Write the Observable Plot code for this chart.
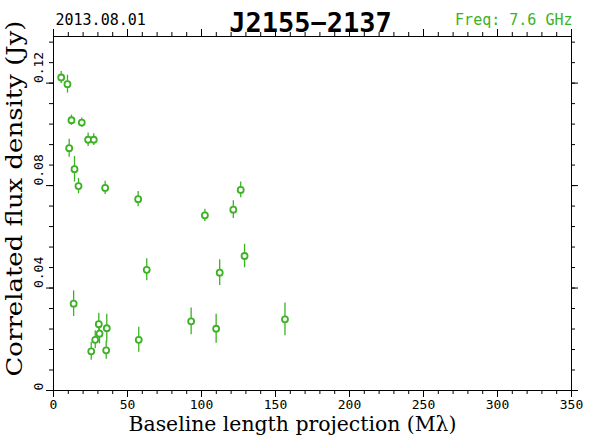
<!DOCTYPE html>
<html>
<head>
<meta charset="utf-8">
<script src="https://cdn.jsdelivr.net/npm/d3@7"></script>
<script src="https://cdn.jsdelivr.net/npm/@observablehq/plot@0.6"></script>
<style>
  html, body { margin: 0; padding: 0; background: white; }
</style>
</head>
<body>
<div id="chart"></div>
<script>
const baseline = [5.2, 9.45, 12.15, 19.1, 23.4, 27.2, 10.6, 14.2, 16.9, 34.9, 57.2, 102.3, 121.5, 126.5, 129.1, 112.3, 63.0, 13.6, 30.6, 36.0, 31.1, 28.2, 25.5, 35.6, 57.6, 93.0, 109.9, 156.4];
const flux = [0.1222, 0.1196, 0.1055, 0.1046, 0.0979, 0.0979, 0.0946, 0.0864, 0.0798, 0.0791, 0.0747, 0.0684, 0.0706, 0.0783, 0.0525, 0.0460, 0.0471, 0.0339, 0.0259, 0.0243, 0.0222, 0.0198, 0.0153, 0.0157, 0.0198, 0.0270, 0.0241, 0.0278];
const fluxErr = [0.0023, 0.0035, 0.0020, 0.0018, 0.0026, 0.0023, 0.0035, 0.0050, 0.0030, 0.0026, 0.0030, 0.0024, 0.0035, 0.0031, 0.0046, 0.0050, 0.0043, 0.0050, 0.0043, 0.0055, 0.0040, 0.0035, 0.0035, 0.0035, 0.0049, 0.0052, 0.0057, 0.0064];

const xTicks = [0, 50, 100, 150, 200, 250, 300, 350];
const xTickLabels = ["0", "50", "100", "150", "200", "250", "300", "350"];
const yTicks = [0, 0.04, 0.08, 0.12];
const yTickLabels = ["0", "0.04", "0.08", "0.12"];
const xMinor = d3.range(0, 351, 10);
const yMinor = d3.range(0, 0.138, 0.008);

const titleText = "J2155\u22122137";
const dateText = "2013.08.01";
const freqText = "Freq: 7.6 GHz";
const xLabel = "Baseline length projection (M\u03bb)";
const yLabel = "Correlated flux density (Jy)";

const green = "#3cb224";
const data = baseline.map((u, i) => ({u, f: flux[i], e: fluxErr[i]}));

const W = 590, H = 443, ML = 53, MR = 19, MT = 36, MB = 53;
const FW = W - ML - MR, FH = H - MT - MB;

const plot = Plot.plot({
  width: W,
  height: H,
  marginLeft: ML,
  marginRight: MR,
  marginTop: MT,
  marginBottom: MB,
  style: {fontFamily: "DejaVu Sans Mono", fontSize: "13px", background: "white", color: "black"},
  x: {domain: [0, 350], axis: null},
  y: {domain: [0, 0.1382], axis: null},
  marks: [
    Plot.frame({stroke: "black", strokeWidth: 1}),
    // bottom axis: major ticks with labels
    Plot.axisX({anchor: "bottom", ticks: xTicks, tickSize: 7, tickPadding: 2, tickFormat: d => xTickLabels[xTicks.indexOf(d)], label: null, fontSize: 13}),
    // minor ticks (outward) on all four sides
    Plot.tickX(xMinor, {x: d => d, insetTop: FH, insetBottom: -4, stroke: "black"}),
    Plot.tickX(xMinor, {x: d => d, insetTop: -4, insetBottom: FH, stroke: "black"}),
    Plot.tickX(xTicks, {x: d => d, insetTop: -7, insetBottom: FH, stroke: "black"}),
    Plot.tickY(yMinor, {y: d => d, insetLeft: -4, insetRight: FW, stroke: "black"}),
    Plot.tickY(yTicks, {y: d => d, insetLeft: -7, insetRight: FW, stroke: "black"}),
    Plot.tickY(yMinor, {y: d => d, insetLeft: FW, insetRight: -4, stroke: "black"}),
    Plot.tickY(yTicks, {y: d => d, insetLeft: FW, insetRight: -7, stroke: "black"}),
    // rotated y tick labels
    Plot.text(yTicks, {y: d => d, text: (d, i) => yTickLabels[i], frameAnchor: "left", dx: -15, rotate: -90, fontSize: 13, fill: "black"}),
    // error bars
    Plot.ruleX(data, {x: "u", y1: d => d.f - d.e, y2: d => d.f + d.e, stroke: green, strokeWidth: 1.3}),
    Plot.dot(data, {x: "u", y: "f", r: 3, stroke: green, strokeWidth: 1.8, fill: "white"}),
    // header
    Plot.text([dateText], {text: d => d, frameAnchor: "top-left", textAnchor: "start", dx: 2, dy: -22, fontSize: 15, fill: "black"}),
    Plot.text([titleText], {text: d => d, frameAnchor: "top", dx: -2, dy: -24, fontSize: 27, fontWeight: "bold", fill: "black"}),
    Plot.text([freqText], {text: d => d, frameAnchor: "top-right", textAnchor: "end", dx: 1, dy: -22, fontSize: 15, fill: green}),
    // axis labels
    Plot.text([xLabel], {text: d => d, frameAnchor: "bottom", textAnchor: "start", dx: 128 - (ML + FW / 2), dy: 40, fontSize: 21, fontFamily: "DejaVu Serif", fill: "black", className: "xlab"}),
    Plot.text([yLabel], {text: d => d, frameAnchor: "left", textAnchor: "start", dx: -39, dy: 376 - (MT + FH / 2), rotate: -90, fontSize: 22, fontFamily: "DejaVu Serif", fill: "black", className: "ylab"})
  ]
});
document.getElementById("chart").appendChild(plot);
plot.querySelectorAll(".xlab text").forEach(t => { t.setAttribute("textLength", 328); t.setAttribute("lengthAdjust", "spacingAndGlyphs"); });
plot.querySelectorAll(".ylab text").forEach(t => { t.setAttribute("textLength", 356); t.setAttribute("lengthAdjust", "spacingAndGlyphs"); });
</script>
</body>
</html>
